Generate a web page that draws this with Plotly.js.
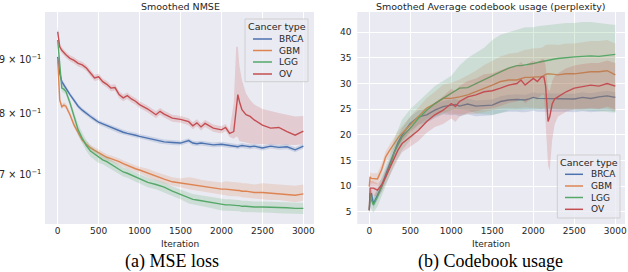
<!DOCTYPE html>
<html><head><meta charset="utf-8">
<script src="https://cdn.plot.ly/plotly-3.0.1.min.js"></script>
<style>html,body{margin:0;padding:0;background:#fff}#chart{width:628px;height:272px}</style>
</head><body><div id="chart"></div>
<script>
// ---------- Data: left panel (Smoothed NMSE) ----------
const L_X = [0,25,50,75,100,150,200,250,300,350,400,450,500,550,600,650,700,750,800,850,900,950,1000,1100,1200,1250,1300,1400,1500,1600,1650,1700,1750,1800,1900,2000,2050,2100,2150,2180,2200,2220,2250,2300,2350,2400,2500,2600,2700,2800,2900,3000];
const BRCA_MSE = [0.905,0.873,0.857,0.850,0.845,0.833,0.823,0.812,0.805,0.799,0.794,0.789,0.784,0.781,0.778,0.775,0.772,0.769,0.767,0.765,0.764,0.762,0.760,0.757,0.754,0.752,0.751,0.750,0.749,0.753,0.749,0.748,0.749,0.748,0.746,0.747,0.746,0.745,0.745,0.744,0.743,0.744,0.745,0.744,0.743,0.744,0.741,0.744,0.742,0.743,0.738,0.744];
const GBM_MSE = [0.901,0.823,0.811,0.814,0.812,0.797,0.779,0.765,0.754,0.747,0.741,0.737,0.733,0.729,0.726,0.724,0.722,0.719,0.716,0.713,0.711,0.708,0.706,0.701,0.696,0.694,0.692,0.688,0.686,0.685,0.684,0.682,0.681,0.680,0.678,0.677,0.677,0.676,0.675,0.675,0.675,0.675,0.674,0.674,0.673,0.672,0.672,0.671,0.671,0.670,0.668,0.670];
const LGG_MSE = [0.939,0.886,0.845,0.843,0.839,0.818,0.794,0.771,0.757,0.745,0.736,0.731,0.726,0.722,0.719,0.715,0.711,0.707,0.703,0.701,0.698,0.695,0.692,0.687,0.684,0.682,0.680,0.674,0.669,0.664,0.662,0.661,0.660,0.659,0.657,0.654,0.654,0.654,0.653,0.653,0.653,0.653,0.652,0.652,0.651,0.651,0.651,0.651,0.650,0.650,0.649,0.649];
const OV_MSE = [0.956,0.925,0.918,0.913,0.909,0.902,0.898,0.892,0.889,0.883,0.873,0.864,0.866,0.857,0.852,0.845,0.846,0.833,0.827,0.831,0.825,0.821,0.815,0.807,0.797,0.803,0.798,0.791,0.789,0.785,0.778,0.783,0.776,0.782,0.774,0.771,0.775,0.765,0.768,0.805,0.833,0.820,0.806,0.797,0.794,0.788,0.779,0.774,0.775,0.768,0.762,0.769];
// band offsets (above / below the line)
const BRCA_MSE_SPREAD = [.010,.007,.005,.005,.005,
 .004,.004,.004,.004,.004,.004,.004,.004,.004,.004,
 .004,.004,.004,.004,.004,.004,.004,.004,.004,.004,
 .004,.004,.004,.004,.004,.004,.004,.004,.004,.004,
 .004,.004,.004,.004,.004,.004,.004,.004,.004,.004,
 .004,.004,.004,.004,.004,.004,.004];
const GBM_MSE_UP = [.006,
 .005,.005,.005,.005,.005,.005,.005,.005,.005,.005,.005,.005,
 .005,.005,.005,.005,.005,.005,.005,.005,.005,.005,
 .007,.007,.007,.007,.007,.007,
 .010,.010,.010,.010,.010,.010,.010,
 .012,.012,.012,.012,.012,.012,.012,.012,.012,.012,
 .014,.014,.014,.014,.014,.014];
const GBM_MSE_DN = [.006,
 .004,.004,.004,.004,.004,.004,.004,.004,.004,.004,.004,.004,
 .005,.005,.005,.005,.005,.005,.005,.005,.005,.005,
 .006,.006,.006,.006,.006,.006,
 .008,.008,.008,.008,.008,.008,.008,
 .009,.009,.009,.009,.009,.009,.009,.009,.009,.009,
 .010,.010,.010,.010,.010,.010];
const LGG_MSE_SPREAD = [.006,.006,.006,.006,.006,.006,
 .009,.009,.009,.009,.009,.009,.009,
 .007,.007,.007,.007,.007,.007,.007,.007,.007,.007,.007,.007,.007,.007,.007,.007,
 .008,.008,.008,.008,.008,.008,.008,.008,.008,.008,.008,.008,.008,.008,.008,.008,.008,.008,.008,.008,.008,.008,.008];
const OV_MSE_UP = [.012,
 .006,.006,.006,.006,.006,.006,.006,.006,.006,.006,.006,.006,.006,.006,.006,.006,.006,.006,.006,.006,.006,.006,.006,.006,.006,.006,.006,.006,.006,.006,.006,.006,.006,.006,.006,.006,.006,
 .050,.120,.092,.066,.054,.038,.029,.027,.028,.029,.025,.029,.032,.026];
const OV_MSE_DN = [.010,
 .006,.006,.006,.006,.006,.006,.006,.006,.006,.006,.006,.006,.006,.006,.006,.006,.006,.006,.006,.006,.006,.006,.006,.006,.006,.006,.006,.006,.006,.006,.006,.006,.006,.006,.006,.006,.006,
 .012,.045,.075,.068,.055,.047,.046,.040,.032,.028,.028,.022,.016,.022];

// ---------- Data: right panel (perplexity) ----------
const R_X = [0,10,25,50,100,150,200,250,300,350,400,500,600,700,800,900,1000,1050,1100,1200,1300,1400,1500,1600,1700,1800,1850,1900,1950,2000,2050,2100,2130,2150,2180,2200,2230,2260,2300,2400,2500,2600,2700,2800,2900,3000];
const BRCA_PPL = [5.3,7.5,8.6,6.6,8.2,9.9,12.2,14.4,16.7,18.5,20.0,22.2,23.5,23.9,24.8,25.5,25.8,25.9,25.6,26.0,25.6,25.7,25.8,26.5,26.8,26.9,26.8,26.8,27.0,27.3,27.1,27.1,27.0,27.1,27.0,27.1,27.0,27.1,27.1,27.1,27.0,27.3,27.1,27.4,27.6,27.3];
const BRCA_PPL_LO = [4.3,6.5,7.6,5.6,7.2,8.9,11.2,13.4,15.5,17.3,18.7,20.7,22.0,22.4,23.3,24.0,23.8,23.9,23.6,24.0,23.6,23.7,23.8,24.3,24.5,24.5,24.4,24.4,24.5,24.7,24.5,24.5,24.4,24.5,24.4,24.5,24.4,24.5,24.5,24.5,24.4,24.6,24.4,24.6,24.7,24.5];
const BRCA_PPL_HI = [6.3,8.5,9.6,7.6,9.2,10.9,13.2,15.4,17.9,19.7,21.3,23.5,24.8,25.2,26.0,26.6,26.9,27.0,26.7,27.1,26.7,26.8,26.9,27.5,27.8,27.9,27.8,27.8,28.0,28.3,28.1,28.1,28.0,28.1,28.0,28.1,28.0,28.1,28.1,28.1,28.0,28.3,28.1,28.4,28.6,28.3];
const GBM_PPL = [9.9,11.8,11.5,11.5,11.4,13.2,15.7,17.0,18.3,19.4,20.3,21.9,23.5,25.2,26.1,27.1,27.1,27.2,27.4,27.8,28.4,29.1,29.7,30.4,30.7,30.7,30.9,31.2,31.2,31.3,31.3,31.3,31.6,31.8,31.9,31.9,31.9,31.8,31.7,31.9,31.9,32.1,32.3,32.3,32.5,31.7];
const GBM_PPL_HI = [10.9,12.8,12.5,12.5,12.5,14.3,16.8,18.1,19.5,20.7,21.7,23.5,25.2,27.2,28.4,29.8,30.1,30.4,30.8,31.6,32.5,33.6,34.4,35.3,35.8,36.0,36.3,36.6,36.7,36.9,36.9,37.0,37.3,37.5,37.6,37.6,37.7,37.6,37.5,37.8,37.8,38.1,38.3,38.3,38.5,37.8];
const GBM_PPL_LO = [8.9,10.8,10.5,10.5,10.3,12.1,14.6,15.9,17.1,18.1,18.9,20.3,21.8,23.2,23.8,24.4,24.1,24.0,24.0,24.0,24.1,24.5,24.8,25.2,25.3,25.2,25.3,25.4,25.3,25.3,25.2,25.1,25.3,25.4,25.4,25.3,25.3,25.2,25.1,25.2,25.1,25.2,25.3,25.2,25.2,24.6];
const LGG_PPL = [5.3,8.6,7.3,6.3,7.9,9.9,11.8,13.8,16.4,18.0,19.6,21.3,23.2,24.8,26.1,27.1,28.1,28.6,29.1,29.2,30.0,30.8,31.5,32.3,33.0,33.5,33.5,33.6,33.8,33.9,34.1,34.3,34.4,34.5,34.5,34.6,34.7,34.8,34.9,35.1,35.2,35.3,35.4,35.3,35.5,35.7];
const LGG_PPL_HI = [6.5,10,9,8,9.5,12,14,16,19,21,23,25,26.5,28,29.5,30.5,31.5,32.5,33.5,35,36,37,38.5,39.5,40,40.5,40.8,41,41,41,41.2,41.3,41.3,41.4,41.5,41.5,41.5,41.6,41.6,41.8,41.8,42,42,41.8,41.6,41.4];
const LGG_PPL_LO = [4.5,7,5.5,4.8,6,8,10,12,14,15.5,17,19,21,22.5,23.5,24.2,24.8,25,25,24.8,24.2,24,23.9,24.2,24.8,24.8,24.8,24.9,24.9,25,25,25,25,25,25,25,25,25,25,25,24.9,24.8,24.7,24.6,24.5,24.3];
const OV_PPL = [5.3,9.6,9.6,9.6,9.2,10.2,11.8,13.5,15.1,17.0,18.3,19.6,20.9,22.6,23.9,24.8,26.1,25.5,26.5,27.4,27.8,28.4,28.6,29.1,29.7,30.0,30.7,29.7,30.4,31.0,30.4,31.3,31.3,29.5,22.6,23.5,26.0,27.0,27.4,28.4,29.1,29.4,29.7,29.5,30.0,29.5];
const OV_PPL_HI = [6.5,11,11,11,10.5,11.5,13.2,15,16.7,18.7,20,21.5,23,24.8,26.3,27.5,29,28.5,29.5,30.5,31,31.8,32,32.6,33.2,33.5,34.2,33.3,34,34.5,34,34.8,34.8,33.5,29,28.5,30.5,31.5,32,33,33.5,33.8,34,34,34.5,34];
const OV_PPL_LO = [4.3,8.2,8.2,8.2,7.9,8.9,10.4,12,13.5,15.3,16.6,17.7,18.8,20.4,21.5,22.1,23.2,22.5,23.5,24.3,24.6,25,25.2,25.6,26.2,26.5,27.2,26.1,26.8,27.4,26.8,27.8,27.8,24,14,13,19,22,23.5,24.5,25,25,25.2,25,25.5,25];

const SERIES = ['BRCA','GBM','LGG','OV'];
const X_TICKS = [0,500,1000,1500,2000,2500,3000];
const L_Y_TICKS = [0.7,0.8,0.9];
const L_Y_TEXT = ['7 × 10<sup>−1</sup>','8 × 10<sup>−1</sup>','9 × 10<sup>−1</sup>'];
const R_Y_TICKS = [5,10,15,20,25,30,35,40];

// ---------- Drawing ----------
const W=628,H=272;
const px=x=>x/W, py=y=>1-y/H;
const COLORS={BRCA:'#4C72B0',GBM:'#DD8452',LGG:'#55A868',OV:'#C44E52'};
function rgba(hex,a){const n=parseInt(hex.slice(1),16);return `rgba(${n>>16},${(n>>8)&255},${n&255},${a})`;}
const traces=[];
function addSeries(x,y,lo,hi,color,xa,ya){
  traces.push({x:x.concat(x.slice().reverse()),y:hi.concat(lo.slice().reverse()),fill:'toself',
    fillcolor:rgba(color,0.2),line:{width:0},mode:'lines',hoverinfo:'skip',showlegend:false,xaxis:xa,yaxis:ya});
  traces.push({x:x,y:y,mode:'lines',line:{color:color,width:1.4},showlegend:false,xaxis:xa,yaxis:ya});
}
const sub=(a,b)=>a.map((v,i)=>v-b[i]), add=(a,b)=>a.map((v,i)=>v+b[i]);
addSeries(L_X,BRCA_MSE,sub(BRCA_MSE,BRCA_MSE_SPREAD),add(BRCA_MSE,BRCA_MSE_SPREAD),COLORS.BRCA,'x','y');
addSeries(L_X,GBM_MSE,sub(GBM_MSE,GBM_MSE_DN),add(GBM_MSE,GBM_MSE_UP),COLORS.GBM,'x','y');
addSeries(L_X,LGG_MSE,sub(LGG_MSE,LGG_MSE_SPREAD),add(LGG_MSE,LGG_MSE_SPREAD),COLORS.LGG,'x','y');
addSeries(L_X,OV_MSE,sub(OV_MSE,OV_MSE_DN),add(OV_MSE,OV_MSE_UP),COLORS.OV,'x','y');
addSeries(R_X,BRCA_PPL,BRCA_PPL_LO,BRCA_PPL_HI,COLORS.BRCA,'x2','y2');
addSeries(R_X,GBM_PPL,GBM_PPL_LO,GBM_PPL_HI,COLORS.GBM,'x2','y2');
addSeries(R_X,LGG_PPL,LGG_PPL_LO,LGG_PPL_HI,COLORS.LGG,'x2','y2');
addSeries(R_X,OV_PPL,OV_PPL_LO,OV_PPL_HI,COLORS.OV,'x2','y2');

const FONT='DejaVu Sans', TXT='#262626';
const tickfont={family:FONT,size:9,color:TXT};
const axBase={showline:false,zeroline:false,tickfont:tickfont,gridcolor:'#ffffff',gridwidth:1};
const layout={
  width:W,height:H,margin:{l:0,r:0,t:0,b:0},paper_bgcolor:'#ffffff',plot_bgcolor:'#EAEAF2',showlegend:false,
  xaxis:Object.assign({},axBase,{domain:[px(45),px(314)],range:[-155,3130],tickvals:X_TICKS,showgrid:true,ticks:'',anchor:'y'}),
  yaxis:Object.assign({},axBase,{domain:[py(224),py(12)],type:'log',range:[-0.2026,-0.0007],tickvals:L_Y_TICKS,showticklabels:false,showgrid:false,ticks:'',anchor:'x'}),
  xaxis2:Object.assign({},axBase,{domain:[px(357.3),px(625)],range:[-146,3118],tickvals:X_TICKS,showgrid:true,ticks:'',anchor:'y2'}),
  yaxis2:Object.assign({},axBase,{domain:[py(224),py(12)],range:[2.6,43.96],tickvals:R_Y_TICKS,showgrid:true,ticks:'outside',ticklen:3,tickcolor:'rgba(0,0,0,0)',anchor:'x2'}),
  shapes:[],annotations:[]
};
function txt(x,y,text,size,opts){
  layout.annotations.push(Object.assign({xref:'paper',yref:'paper',x:px(x),y:py(y),text:text,showarrow:false,
    xanchor:'center',yanchor:'middle',font:{family:FONT,size:size,color:TXT}},opts||{}));
}
// left log-axis tick labels (matplotlib style)
L_Y_TICKS.forEach((v,i)=>{
  layout.annotations.push({xref:'paper',yref:'y',x:px(42.5),y:Math.log10(v),text:L_Y_TEXT[i],showarrow:false,
    xanchor:'right',yanchor:'middle',font:{family:FONT,size:9.6,color:TXT}});
});
// titles and axis labels
txt(180,6,'Smoothed NMSE',9.5);
txt(491,6,'Smoothed Average codebook usage (perplexity)',9.5);
txt(180,244,'Iteration',9);
txt(491,244,'Iteration',9);
txt(172,261,'(a) MSE loss',18,{font:{family:'Liberation Serif',size:18,color:'#000'}});
txt(490,261,'(b) Codebook usage',18,{font:{family:'Liberation Serif',size:18,color:'#000'}});
// legends
function legend(x0,x1,y0,y1,titleY,itemY,lx0,lx1,tx){
  layout.shapes.push({type:'rect',xref:'paper',yref:'paper',x0:px(x0),x1:px(x1),y0:py(y1),y1:py(y0),
    fillcolor:'rgba(234,234,242,0.8)',line:{color:'rgba(204,204,204,0.9)',width:1},layer:'above'});
  txt((x0+x1)/2,titleY,'Cancer type',9.5);
  SERIES.forEach((s,i)=>{
    layout.shapes.push({type:'line',xref:'paper',yref:'paper',x0:px(lx0),x1:px(lx1),y0:py(itemY[i]),y1:py(itemY[i]),
      line:{color:COLORS[s],width:1.5},layer:'above'});
    txt(tx,itemY[i],s,9,{xanchor:'left'});
  });
}
legend(245,308,19,81.7,26.7,[39,50.5,62,74],253,272,277);
legend(557.3,620,155,218,162.7,[174.3,186,197.5,209.3],565,583,589);

Plotly.newPlot('chart',traces,layout,{staticPlot:true,displayModeBar:false});
</script></body></html>
